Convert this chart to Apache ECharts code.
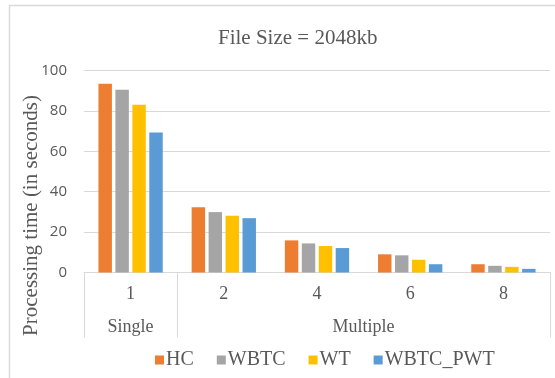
<!DOCTYPE html>
<html>
<head>
<meta charset="utf-8">
<script src="https://cdn.jsdelivr.net/npm/echarts@6/dist/echarts.min.js"></script>
<style>
html,body{margin:0;padding:0;background:#fff;}
#c{width:555px;height:378px;}
</style>
</head>
<body>
<div id="c"></div>
<script>
var titleText = 'File Size = 2048kb';
var yAxisName = 'Processing time (in seconds)';
var categories = ['1', '2', '4', '6', '8'];
var groupNames = ['Single', 'Multiple'];
var groupStarts = [0, 1];
var groupEnds = [1, 5];
var seriesNames = ['HC', 'WBTC', 'WT', 'WBTC_PWT'];
var HC = [93.4, 32.3, 15.9, 9.0, 4.1];
var WBTC = [90.5, 29.9, 14.4, 8.5, 3.3];
var WT = [83.0, 28.1, 13.1, 6.3, 2.8];
var WBTC_PWT = [69.3, 26.9, 12.1, 4.1, 1.8];
var yTicks = [0, 20, 40, 60, 80, 100];
var colors = ['#ED7D31', '#A5A5A5', '#FFC000', '#5B9BD5'];

var serif = '"Liberation Serif", "Times New Roman", serif';
var sans = '"Open Sans", "Liberation Sans", sans-serif';
var textColor = '#595959';
var lineColor = '#d9d9d9';

var groupCenters = groupStarts.map(function (s, i) { return (s + groupEnds[i]) / 2; });
var groupBounds = groupStarts.concat([groupEnds[groupEnds.length - 1]]);

var chart = echarts.init(document.getElementById('c'), null, {renderer: 'canvas'});
var dataSets = [HC, WBTC, WT, WBTC_PWT];
chart.setOption({
  animation: false,
  backgroundColor: '#fff',
  color: colors,
  graphic: [{
    type: 'rect',
    shape: {x: 9.5, y: 5.5, width: 700, height: 500},
    style: {fill: 'none', stroke: lineColor, lineWidth: 1.5},
    silent: true, z: -10
  }],
  title: {
    text: titleText,
    left: 213, top: 23,
    textStyle: {fontFamily: serif, fontSize: 21, fontWeight: 'normal', color: textColor}
  },
  legend: {
    data: seriesNames,
    left: 150, top: 345,
    icon: 'rect', itemWidth: 9, itemHeight: 9, itemGap: 23,
    textStyle: {fontFamily: serif, fontSize: 20, color: textColor, padding: [0, 0, 0, -3]}
  },
  grid: {left: 84, right: 5, top: 70.5, bottom: 105.5, containLabel: false},
  xAxis: [{
    type: 'category',
    data: categories,
    axisLine: {show: true, lineStyle: {color: lineColor, width: 1}},
    axisTick: {show: false},
    axisLabel: {margin: 13, fontFamily: serif, fontSize: 18, color: textColor}
  }, {
    type: 'value',
    position: 'bottom',
    min: 0, max: 5,
    axisLine: {show: false},
    splitLine: {show: false},
    axisTick: {show: true, customValues: groupBounds, length: 65, lineStyle: {color: lineColor, width: 1}},
    axisLabel: {
      customValues: groupCenters,
      margin: 46,
      fontFamily: serif, fontSize: 18, color: textColor,
      formatter: function (v) {
        for (var i = 0; i < groupCenters.length; i++) {
          if (Math.abs(groupCenters[i] - v) < 1e-6) return groupNames[i];
        }
        return '';
      }
    }
  }],
  yAxis: {
    type: 'value',
    min: yTicks[0], max: yTicks[yTicks.length - 1], interval: 20,
    name: yAxisName,
    nameLocation: 'middle',
    nameGap: 42,
    nameRotate: 90,
    nameMoveOverlap: false,
    nameTextStyle: {fontFamily: serif, fontSize: 21, color: textColor, padding: [0, 88, 0, 0]},
    axisLine: {show: false},
    axisTick: {show: false},
    splitLine: {lineStyle: {color: lineColor, width: 1}},
    axisLabel: {margin: 17, fontFamily: sans, fontSize: 15, color: textColor}
  },
  series: seriesNames.map(function (n, i) {
    return {
      name: n, type: 'bar', xAxisIndex: 0,
      data: dataSets[i],
      barCategoryGap: '31%', barGap: '26%'
    };
  })
});
</script>
</body>
</html>
